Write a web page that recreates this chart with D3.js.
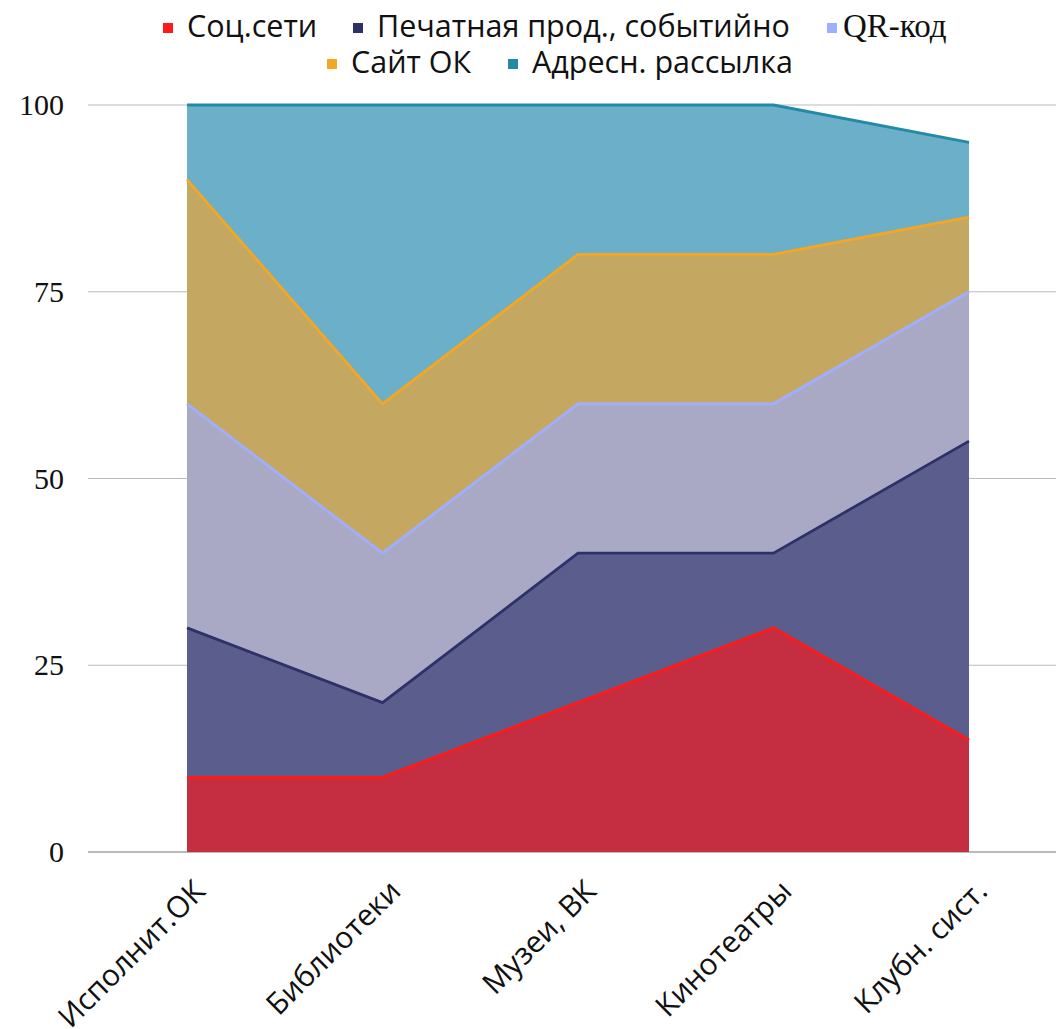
<!DOCTYPE html>
<html>
<head>
<meta charset="utf-8">
<script src="https://cdn.jsdelivr.net/npm/d3@7"></script>
<style>
  body { margin: 0; background: #fff; }
  svg { display: block; }
</style>
</head>
<body>
<svg id="chart" width="1056" height="1029"></svg>
<script>
// data
var categories = ["Исполнит.ОК", "Библиотеки", "Музеи, ВК", "Кинотеатры", "Клубн. сист."];
var seriesNames = ["Соц.сети", "Печатная прод., событийно", "QR-код", "Сайт ОК", "Адресн. рассылка"];
var socValues = [10, 10, 20, 30, 15];
var printValues = [20, 10, 20, 10, 40];
var qrValues = [30, 20, 20, 20, 20];
var siteValues = [30, 20, 20, 20, 10];
var mailValues = [10, 40, 20, 20, 10];
var yTicks = [0, 25, 50, 75, 100];

var lineColors = ["#ff1a1a", "#2e3168", "#a0aeff", "#f5a623", "#2389a8"];
var fillColors = ["#c42e40", "#5b5e8c", "#a9a9c6", "#c4a862", "#6bb0c8"];

var allValues = [socValues, printValues, qrValues, siteValues, mailValues];
var rows = categories.map(function(c, i) {
    var r = {cat: c};
    seriesNames.forEach(function(s, j) { r[s] = allValues[j][i]; });
    return r;
});

var svg = d3.select("#chart");

var x = d3.scalePoint().domain(categories).range([187, 969]);
var y = d3.scaleLinear().domain([0, 100]).range([852, 105]);

// grid
svg.append("g").selectAll("line")
    .data(yTicks)
    .enter().append("line")
    .attr("x1", 88).attr("x2", 1056)
    .attr("y1", function(d) { return y(d); })
    .attr("y2", function(d) { return y(d); })
    .attr("stroke", function(d) { return d == 0 ? "#777" : "#bbb"; })
    .attr("stroke-width", 1.2);

var stack = d3.stack().keys(seriesNames);
var layers = stack(rows);

var area = d3.area()
    .x(function(d) { return x(d.data.cat); })
    .y0(function(d) { return y(d[0]); })
    .y1(function(d) { return y(d[1]); });

var topLine = d3.line()
    .x(function(d) { return x(d.data.cat); })
    .y(function(d) { return y(d[1]); });

svg.append("g").selectAll("path")
    .data(layers)
    .enter().append("path")
    .attr("d", area)
    .attr("fill", function(d, i) { return fillColors[i]; });

svg.append("g").selectAll("path")
    .data(layers)
    .enter().append("path")
    .attr("d", topLine)
    .attr("fill", "none")
    .attr("stroke", function(d, i) { return lineColors[i]; })
    .attr("stroke-width", 2.8);

// y labels
svg.append("g").selectAll("text")
    .data(yTicks)
    .enter().append("text")
    .attr("x", 64)
    .attr("y", function(d) { return y(d) + 10; })
    .attr("text-anchor", "end")
    .style("font-family", "'Liberation Serif', serif")
    .style("font-size", "30px")
    .attr("fill", "#111")
    .text(function(d) { return d; });

// x labels
svg.append("g").selectAll("text")
    .data(categories)
    .enter().append("text")
    .attr("transform", function(d) { return "translate(" + (x(d) + 20) + ",893) rotate(-45)"; })
    .attr("text-anchor", "end")
    .style("font-family", "'Open Sans', 'Noto Sans', sans-serif")
    .style("font-size", "30px")
    .attr("fill", "#111")
    .text(function(d) { return d; });

// legend
var legendPos = [
    {x: 168, y: 28}, {x: 358, y: 28}, {x: 832, y: 28},
    {x: 332, y: 64}, {x: 513, y: 64}
];
var leg = svg.append("g").selectAll("g")
    .data(seriesNames)
    .enter().append("g")
    .attr("transform", function(d, i) { return "translate(" + legendPos[i].x + "," + legendPos[i].y + ")"; });

leg.append("rect")
    .attr("x", -5).attr("y", -5)
    .attr("width", 10).attr("height", 10)
    .attr("fill", function(d, i) { return lineColors[i]; });

leg.append("text")
    .attr("x", function(d, i) { return i == 2 ? 11 : 19; })
    .attr("y", 9)
    .style("font-family", function(d, i) { return i == 2 ? "'Liberation Serif', serif" : "'Open Sans', 'Noto Sans', sans-serif"; })
    .style("font-size", function(d, i) { return i == 2 ? "33px" : "30.5px"; })
    .attr("fill", "#111")
    .text(function(d) { return d; });
</script>
</body>
</html>
